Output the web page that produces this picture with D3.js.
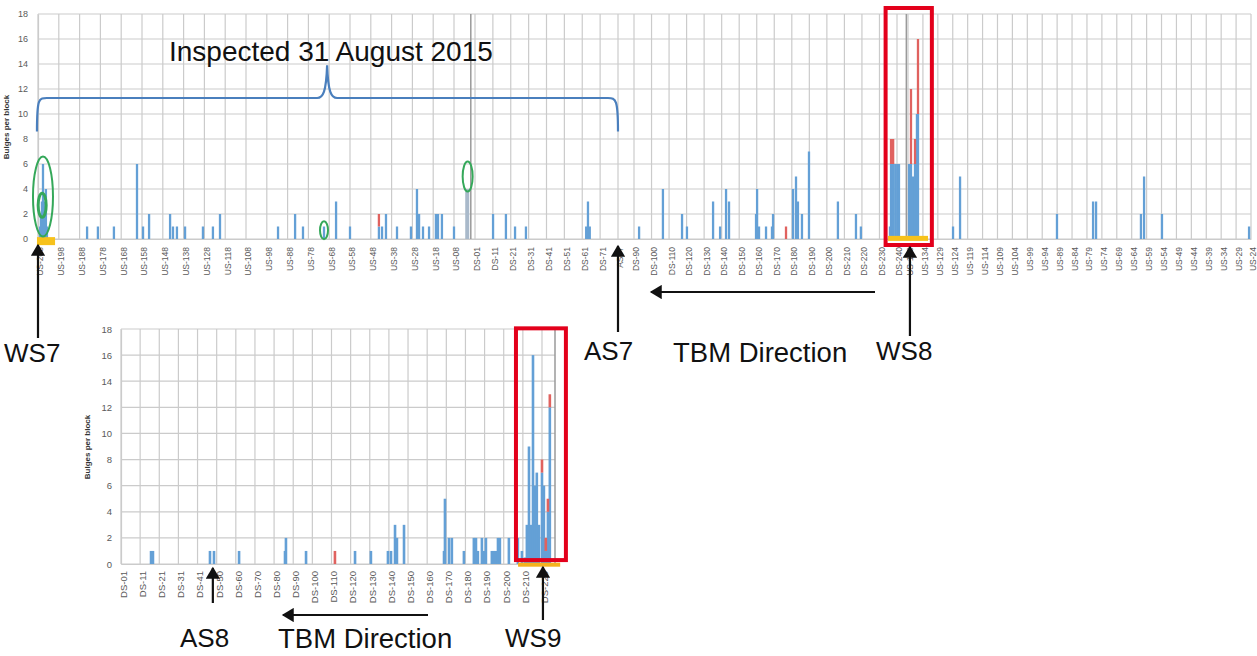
<!DOCTYPE html>
<html><head><meta charset="utf-8">
<script src="https://cdn.jsdelivr.net/npm/d3@7"></script>
<style>
html,body{margin:0;padding:0;background:#fff;}
svg{display:block;font-family:"Liberation Sans",Arial,sans-serif;}
</style></head>
<body><svg id="c" width="1257" height="656"></svg>
<script>
// ---------- DATA ----------
const yTicks = [0,2,4,6,8,10,12,14,16,18];
const topLabels = ["US-208","US-198","US-188","US-178","US-168","US-158","US-148","US-138","US-128","US-118",
 "US-108","US-98","US-88","US-78","US-68","US-58","US-48","US-38","US-28","US-18","US-08",
 "DS-01","DS-11","DS-21","DS-31","DS-41","DS-51","DS-61","DS-71","AS07",
 "DS-90","DS-100","DS-110","DS-120","DS-130","DS-140","DS-150","DS-160","DS-170","DS-180","DS-190",
 "DS-200","DS-210","DS-220","DS-230","DS-240",
 "US-139","US-134","US-129","US-124","US-119","US-114","US-109","US-104","US-99","US-94","US-89",
 "US-84","US-79","US-74","US-69","US-64","US-59","US-54","US-49","US-44","US-39","US-34","US-29","US-24"];
// bar position along the axis (in tick-label units)
const topPos = [0.10,0.14,0.19,0.24,0.29,0.34,0.38,0.43,
 2.36,2.88,3.65,4.76,5.05,5.34,6.35,6.49,6.68,7.07,7.93,8.41,8.75,11.54,12.36,12.74,13.75,14.33,15.0,
 16.39,16.54,16.73,17.26,17.93,18.22,18.32,18.51,18.8,19.13,19.23,19.42,20.0,
 22.01,22.73,23.24,23.85,27.22,27.32,27.42,
 30.29,31.65,32.74,33.02,34.51,34.91,35.25,35.42,36.96,37.02,37.13,37.53,37.87,37.93,38.67,
 39.07,39.24,39.35,39.58,39.98,41.63,42.66,42.94,
 44.6,44.66,44.78,44.9,45.02,45.18,46.07,46.2,46.34,46.47,46.6,46.67,
 49.02,49.49,55.99,58.41,58.61,61.62,61.83,63.03,68.87];
const topBlue = [1,2,3,6,3,2,4,1,
 1,1,1,6,1,2,2,1,1,1,1,1,2,1,2,1,1,3,1,
 1,1,2,1,1,4,2,1,1,2,2,2,1,
 2,2,1,1,1,3,1,
 1,4,2,1,3,1,4,3,2,4,1,1,1,2,0,
 4,5,3,2,7,3,2,1,
 1,6,6,6,6,6,6,6,5,6,10,10,
 1,5,2,3,3,2,5,2,1];
const topRed = [0,0,0,0,0,0,0,0,
 0,0,0,0,0,0,0,0,0,0,0,0,0,0,0,0,0,0,0,
 1,0,0,0,0,0,0,0,0,0,0,0,0,
 0,0,0,0,0,0,0,
 0,0,0,0,0,0,0,0,0,0,0,0,0,0,1,
 0,0,0,0,0,0,0,0,
 0,2,2,0,0,0,0,6,0,2,0,6,
 0,0,0,0,0,0,0,0,0];
const topGreyPos = [20.63];
const topGreyVal = [4];

const botLabels = ["DS-01","DS-11","DS-21","DS-31","DS-41","DS-50","DS-60","DS-70","DS-80","DS-90","DS-100",
 "DS-110","DS-120","DS-130","DS-140","DS-150","DS-160","DS-170","DS-180","DS-190","DS-200","DS-210","DS-220"];
const botPos = [1.57,1.67,4.65,4.86,6.17,8.57,8.62,9.67,11.18,12.23,13.06,13.95,14.11,14.32,14.42,14.79,
 16.88,16.93,17.14,17.29,17.92,18.44,18.55,18.65,18.86,18.97,19.07,19.38,19.49,19.59,19.7,19.8,
 20.27,20.74,20.95,21.11,21.21,21.32,21.42,21.53,21.63,21.73,21.84,22.0,22.1,22.2,22.31,22.41];
const botBlue = [1,1,1,1,1,1,2,1,0,1,1,1,1,3,2,3,
 1,5,2,2,1,2,2,1,2,1,2,1,1,1,2,2,
 2,2,1,0.5,3,9,3,16,6,7,3,7,6,1,4,12];
const botRed = [0,0,0,0,0,0,0,0,1,0,0,0,0,0,0,0,
 0,0,0,0,0,0,0,0,0,0,0,0,0,0,0,0,
 0,0,0,0,0,0,0,0,0,0,0,1,0,1,1,1];

// ---------- LAYOUT ----------
const BLUE = "#64a0d6", RED = "#e0625f", GRID = "#cbcbcb", GREEN = "#35a85a", YELLOW = "#f7c21b";
const svg = d3.select("#c");

const xTop = d3.scaleLinear().domain([0,20,21,29,30,45,46,69]).range([38,454,475,618,634,897,908,1251]);
const yTop = d3.scaleLinear().domain([0,18]).range([239,14]);
const xBot = d3.scaleLinear().domain([0,22.68]).range([121,555]);
const yBot = d3.scaleLinear().domain([0,18]).range([564,329]);

function drawChart(g, xs, ys, labels, pos, blue, red, opt) {
  const [x0,x1] = [xs.range()[0], xs.range()[xs.range().length-1]];
  g.append("g").selectAll("line").data(yTicks).join("line")
    .attr("x1", x0).attr("x2", x1).attr("y1", d=>ys(d)).attr("y2", d=>ys(d))
    .attr("stroke", GRID).attr("stroke-width", 1.2);
  g.append("g").selectAll("line").data(labels.map((l,i)=>i)).join("line")
    .attr("x1", d=>xs(d)).attr("x2", d=>xs(d)).attr("y1", ys(0)).attr("y2", ys(18))
    .attr("stroke", GRID).attr("stroke-width", 1.2);
  const ya = d3.axisLeft(ys).tickValues(yTicks).tickSize(0).tickPadding(opt.yPad);
  const yg = g.append("g").attr("transform", `translate(${x0},0)`).call(ya);
  yg.select(".domain").attr("stroke", GRID).attr("stroke-width",1.2);
  yg.selectAll("text").attr("fill","#5a5a5a").attr("font-size", opt.yFont).attr("font-family","Liberation Sans, Arial");
  const xa = d3.axisBottom(xs).tickValues(labels.map((l,i)=>i)).tickFormat(i=>labels[i]).tickSize(0);
  const xg = g.append("g").attr("transform", `translate(0,${ys(0)})`).call(xa);
  xg.select(".domain").attr("stroke", GRID).attr("stroke-width",1.2);
  xg.selectAll("text").attr("fill","#5a5a5a").attr("font-size", opt.xFont).attr("font-family","Liberation Sans, Arial")
    .attr("text-anchor","end").attr("dy","0.35em").attr("y",0)
    .attr("transform", `translate(2,${opt.xOff}) rotate(-90)`);
  g.append("text").attr("transform", `translate(${opt.titleX},${opt.titleY}) rotate(-90)`)
    .attr("text-anchor","middle").attr("font-size", 8).attr("font-weight","bold").attr("fill","#333")
    .text("Bulges per block");
  const bw = opt.bw;
  const rows = pos.map((p,i)=>({p, b:blue[i], r:red[i]}));
  g.append("g").selectAll("rect").data(rows.filter(d=>d.b>0)).join("rect")
    .attr("x", d=>xs(d.p)-bw/2).attr("width", bw)
    .attr("y", d=>ys(d.b)).attr("height", d=>ys(0)-ys(d.b)).attr("fill", BLUE);
  g.append("g").selectAll("rect").data(rows.filter(d=>d.r>0)).join("rect")
    .attr("x", d=>xs(d.p)-bw/2).attr("width", bw)
    .attr("y", d=>ys(d.b+d.r)).attr("height", d=>ys(d.b)-ys(d.b+d.r)).attr("fill", RED);
}

const gt = svg.append("g");
drawChart(gt, xTop, yTop, topLabels, topPos, topBlue, topRed,
  {yPad:10, yFont:9, xFont:8.5, xOff:8, titleX:9, titleY:127, bw:2.3});
gt.append("g").selectAll("rect").data(topGreyPos.map((p,i)=>({p,v:topGreyVal[i]}))).join("rect")
  .attr("x", d=>xTop(d.p)-2).attr("width",4).attr("y", d=>yTop(d.v)).attr("height", d=>yTop(0)-yTop(d.v))
  .attr("fill","#a9b9ca");
gt.selectAll(".sep").data([20.8, 45.85]).join("line").attr("class","sep")
  .attr("x1", d=>xTop(d)).attr("x2", d=>xTop(d)).attr("y1", yTop(0)).attr("y2", yTop(18))
  .attr("stroke","#9a9a9a").attr("stroke-width",1.5);

const gb = svg.append("g");
drawChart(gb, xBot, yBot, botLabels, botPos, botBlue, botRed,
  {yPad:9, yFont:9.5, xFont:9.5, xOff:7, titleX:90, titleY:447, bw:2.6});
gb.append("line").attr("x1", xBot(22.68)).attr("x2", xBot(22.68)).attr("y1", yBot(0)).attr("y2", yBot(18))
  .attr("stroke","#9a9a9a").attr("stroke-width",1.5);

// ---------- ANNOTATIONS ----------
const ann = svg.append("g");
ann.append("rect").attr("x", xTop(-0.05)).attr("y", yTop(0.15)).attr("width", xTop(0.82)-xTop(-0.05)).attr("height", 8).attr("fill", YELLOW);
ann.append("rect").attr("x", xTop(44.49)).attr("y", yTop(0.25)).attr("width", xTop(47.34)-xTop(44.49)).attr("height", 5).attr("fill", YELLOW);
ann.append("rect").attr("x", xBot(20.75)).attr("y", yBot(0.1)).attr("width", xBot(22.95)-xBot(20.75)).attr("height", 4).attr("fill", "#f5b21e");

const ell = [[xTop(0.24), yTop(3.4), 10, 40],[xTop(13.75), yTop(0.7), 4, 9],[xTop(20.65), yTop(5.0), 5, 15]];
ann.selectAll(".el").data(ell).join("ellipse").attr("class","el")
  .attr("cx", d=>d[0]).attr("cy", d=>d[1]).attr("rx", d=>d[2]).attr("ry", d=>d[3])
  .attr("fill","none").attr("stroke", GREEN).attr("stroke-width", 2);
ann.append("ellipse").attr("cx", xTop(0.2)).attr("cy", yTop(2.7)).attr("rx", 4).attr("ry", 12)
  .attr("fill","none").attr("stroke", GREEN).attr("stroke-width", 3);

ann.append("rect").attr("x", xTop(44.35)).attr("y", 8).attr("width", xTop(47.6)-xTop(44.35)).attr("height", 237)
  .attr("fill","none").attr("stroke","#e3001b").attr("stroke-width",4);
ann.append("rect").attr("x", xBot(20.64)).attr("y", yBot(18.05)).attr("width", xBot(23.25)-xBot(20.64)).attr("height", yBot(0.3)-yBot(18.05))
  .attr("fill","none").attr("stroke","#e3001b").attr("stroke-width",4);

const bx0 = xTop(-0.05), bx1 = xTop(29), bm = xTop(13.9), by = yTop(11.28), bp = yTop(13.9), be = yTop(8.6);
ann.append("path").attr("d",
  `M${bx0},${be} C${bx0},${by-2} ${bx0+2},${by} ${bx0+12},${by} L${bm-10},${by} C${bm-4},${by} ${bm-1},${by-6} ${bm},${bp} C${bm+1},${by-6} ${bm+4},${by} ${bm+10},${by} L${bx1-10},${by} C${bx1-2},${by} ${bx1},${by+2} ${bx1},${be}`)
  .attr("fill","none").attr("stroke","#4a7fbd").attr("stroke-width",2.2);

ann.append("text").attr("x",169).attr("y",61).attr("font-size",28).attr("fill","#111").text("Inspected 31 August 2015");

svg.append("defs").append("marker").attr("id","ah").attr("viewBox","0 0 10 12").attr("refX",9).attr("refY",6)
  .attr("markerWidth",6).attr("markerHeight",6.5).attr("orient","auto-start-reverse").attr("markerUnits","strokeWidth")
  .append("path").attr("d","M0,0 L10,6 L0,12 Z").attr("fill","#111");
const arrows = [
  [xTop(0), 338, xTop(0), 245],
  [xTop(29), 332, xTop(29), 246],
  [xTop(46.13), 336, xTop(46.13), 247],
  [875, 292, 651, 292],
  [xBot(4.8), 603, xBot(4.8), 568],
  [xBot(22.05), 620, xBot(22.05), 567],
  [428, 615, 283, 615]
];
ann.selectAll(".ar").data(arrows).join("line").attr("class","ar")
  .attr("x1", d=>d[0]).attr("y1", d=>d[1]).attr("x2", d=>d[2]).attr("y2", d=>d[3])
  .attr("stroke","#111").attr("stroke-width",2.2).attr("marker-end","url(#ah)");

const texts = [
  ["WS7", 4, 362, 26],["AS7", 584, 360, 26],["TBM Direction", 673, 362, 27.5],["WS8", 876, 360, 26],
  ["AS8", 180, 647, 26],["TBM Direction", 278, 648, 27.5],["WS9", 505, 647, 26]
];
ann.selectAll(".tx").data(texts).join("text").attr("class","tx")
  .attr("x", d=>d[1]).attr("y", d=>d[2]).attr("font-size", d=>d[3]).attr("fill","#111").text(d=>d[0]);
</script></body></html>
